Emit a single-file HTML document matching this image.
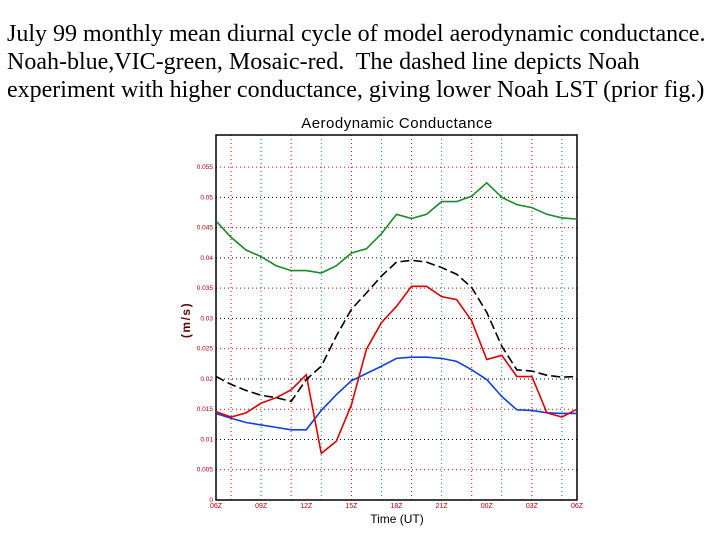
<!DOCTYPE html>
<html><head><meta charset="utf-8"><style>
body{margin:0;width:720px;height:540px;background:#fff;overflow:hidden;font-family:"Liberation Serif",serif}
#cap{position:absolute;left:7px;top:20px;font-size:24px;line-height:28px;color:#000;white-space:nowrap}
svg{position:absolute;left:0;top:0}
</style></head><body>
<div id="cap">July 99 monthly mean diurnal cycle of model aerodynamic conductance.<br>Noah-blue,VIC-green, Mosaic-red.&nbsp; The dashed line depicts Noah<br>experiment with higher conductance, giving lower Noah LST (prior fig.)</div>
<svg id="chart" width="720" height="540"></svg>
<script>
const hours = [6,7,8,9,10,11,12,13,14,15,16,17,18,19,20,21,22,23,24,25,26,27,28,29,30];
const vic = [0.0461,0.0434,0.0413,0.0402,0.0387,0.0379,0.0379,0.0375,0.0387,0.0408,0.0415,0.0440,0.0472,0.0465,0.0472,0.0493,0.0493,0.0502,0.0524,0.0500,0.0488,0.0483,0.0472,0.0466,0.0464];
const noah = [0.0143,0.0135,0.0128,0.0124,0.0120,0.0116,0.0116,0.0148,0.0174,0.0197,0.0209,0.0221,0.0234,0.0236,0.0236,0.0234,0.0229,0.0215,0.0199,0.0171,0.0149,0.0148,0.0144,0.0143,0.0143];
const mosaic = [0.0146,0.0137,0.0144,0.0160,0.0169,0.0182,0.0207,0.0077,0.0097,0.0157,0.0249,0.0293,0.0320,0.0353,0.0353,0.0336,0.0331,0.0296,0.0232,0.0239,0.0204,0.0204,0.0144,0.0137,0.0150];
const noahHi = [0.0204,0.0191,0.0181,0.0173,0.0169,0.0163,0.0199,0.0221,0.0271,0.0315,0.0342,0.0370,0.0393,0.0396,0.0393,0.0384,0.0373,0.0351,0.0310,0.0254,0.0215,0.0213,0.0206,0.0203,0.0204];
const yTicks = [0,0.005,0.01,0.015,0.02,0.025,0.03,0.035,0.04,0.045,0.05,0.055];
const yTickLabels = ["0","0.005","0.01","0.015","0.02","0.025","0.03","0.035","0.04","0.045","0.05","0.055"];
const xTicks = [6,9,12,15,18,21,24,27,30];
const xTickLabels = ["06Z","09Z","12Z","15Z","18Z","21Z","00Z","03Z","06Z"];

const L=216,R=577,T=135,B=500,YMAX=0.0603;
const sx=h=>L+(h-6)/24*(R-L);
const sy=v=>B-v/YMAX*(B-T);
const svg=document.getElementById('chart');
const NS='http://www.w3.org/2000/svg';
function mk(tag,attrs,parent){const e=document.createElementNS(NS,tag);for(const k in attrs)e.setAttribute(k,attrs[k]);(parent||svg).appendChild(e);return e;}

const title=mk('text',{x:397,y:128,'text-anchor':'middle','font-family':'Liberation Sans, sans-serif','font-size':15,'letter-spacing':'0.5',fill:'#000'});


title.textContent='Aerodynamic Conductance';

for(let h=7;h<30;h+=2){
  const g=mk('line',{x1:sx(h),x2:sx(h),y1:T,y2:B,stroke:((h-7)/2)%2?'#00a060':'#e00000','stroke-width':1,'stroke-dasharray':'1,3'});
  
  
}
yTicks.forEach((v,i)=>{
  if(v>0){
    const g=mk('line',{x1:L,x2:R,y1:sy(v),y2:sy(v),stroke:i%2?'#e00000':'#000','stroke-width':1,'stroke-dasharray':'1,3'});
    
    
  }
  const t=mk('text',{x:L-3,y:sy(v)+2,'text-anchor':'end','font-family':'Liberation Sans, sans-serif','font-size':6.5,fill:'#b00000'});
  
  
  t.textContent=yTickLabels[i];
});
xTicks.forEach((h,i)=>{
  const t=mk('text',{x:sx(h),y:B+8,'text-anchor':'middle','font-family':'Liberation Sans, sans-serif','font-size':7,fill:'#b00000'});
  
  
  t.textContent=xTickLabels[i];
});
const frame=mk('rect',{x:L,y:T,width:R-L,height:B-T,fill:'none',stroke:'#000','stroke-width':1.5});



function series(arr,color,dash,name){
  const p=mk('polyline',{points:arr.map((v,i)=>sx(hours[i])+','+sy(v)).join(' '),fill:'none',stroke:color,'stroke-width':1.6});
  if(dash)p.setAttribute('stroke-dasharray',dash);
  
  
}
series(vic,'#1a8a2a',null,'vic-line');
series(noah,'#1040e0',null,'noah-line');
series(mosaic,'#e00000',null,'mosaic-line');
series(noahHi,'#000','9,4','noah-high-conductance-line');

const xt=mk('text',{x:397,y:523,'text-anchor':'middle','font-family':'Liberation Sans, sans-serif','font-size':12,fill:'#000'});


xt.textContent='Time (UT)';
const yt=mk('text',{x:0,y:0,transform:'translate(190,320) rotate(-90)','text-anchor':'middle','font-family':'Liberation Sans, sans-serif','font-size':12,'font-weight':'bold','letter-spacing':'1.5',fill:'#600000'});


yt.textContent='(m/s)';
</script>
</body></html>
